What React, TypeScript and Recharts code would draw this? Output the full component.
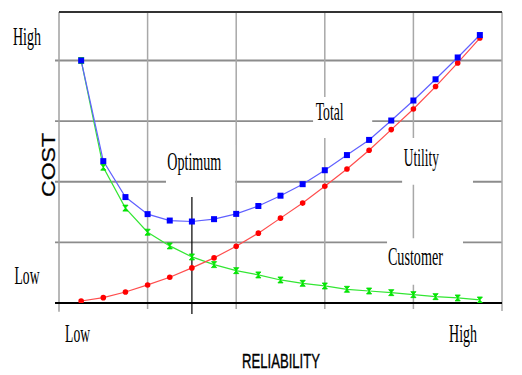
import { LineChart, Line, XAxis, YAxis, ReferenceLine, ReferenceArea, ReferenceDot } from 'recharts';

// reliability steps (x) and cost values (y)
const steps = [0, 1, 2, 3, 4, 5, 6, 7, 8, 9, 10, 11, 12, 13, 14, 15, 16, 17, 18];
const utilityCost = [0.33, 0.88, 1.82, 2.98, 4.25, 5.79, 7.44, 9.37, 11.52, 14.0, 16.48, 19.25, 22.1, 25.2, 28.6, 32.0, 35.7, 39.6, 43.7];
const customerCost = [40.0, 22.4, 15.65, 11.68, 9.42, 7.6, 6.33, 5.34, 4.63, 3.8, 3.25, 2.81, 2.26, 1.98, 1.71, 1.38, 1.05, 0.83, 0.5];
const totalCost = [40.0, 23.4, 17.47, 14.66, 13.6, 13.44, 13.83, 14.7, 16.0, 17.7, 19.6, 21.9, 24.4, 26.9, 30.1, 33.4, 36.9, 40.5, 44.2];

const xGrid = [3, 7, 11, 15];
const yGrid = [10, 20, 30, 40];
const optimumStep = 5;

// qualitative tick labels (no numbers on the axes)
const costTicks = [3.14, 42.5];
const costTickLabels = ['Low', 'High'];
const reliabilityTicks = [-0.16, 17.24];
const reliabilityTickLabels = ['Low', 'High'];

// series captions: white box (hides grid) and text anchor
const captions = [
    { text: 'Optimum', x: 5.11, y: 21.9, len: 54, box: [3.83, 6.95, 19.5, 26.1] },
    { text: 'Total', x: 11.22, y: 30.2, len: 28, box: [10.47, 13.14, 27.2, 34.0] },
    { text: 'Utility', x: 15.36, y: 22.6, len: 35, box: [14.49, 17.69, 19.5, 27.2] },
    { text: 'Customer', x: 15.09, y: 6.2, len: 55, box: [13.81, 17.24, 3.0, 10.7] },
];

const data = steps.map((s, i) => ({
    step: s,
    utility: utilityCost[i],
    customer: customerCost[i],
    total: totalCost[i],
}));

const SERIF = '"Liberation Serif", "DejaVu Serif", serif';
const SANS = '"Liberation Sans", Arial, sans-serif';

const SquareDot = (p: any) => (
    <rect x={p.cx - 3} y={p.cy - 3} width={6} height={6} fill="#0000ff" />
);
const RoundDot = (p: any) => <circle cx={p.cx} cy={p.cy} r={2.8} fill="#ff0000" />;
const HourglassDot = (p: any) => (
    <path
        d={`M${p.cx - 2.6},${p.cy - 3} L${p.cx + 2.6},${p.cy - 3} L${p.cx - 2.6},${p.cy + 3} L${p.cx + 2.6},${p.cy + 3} Z`}
        fill="#00ee00"
        stroke="#00dd00"
        strokeWidth={0.8}
    />
);

const serifText = (x: number, y: number, s: string, len: number) => (
    <text x={x} y={y} textAnchor="middle" fontFamily={SERIF} fontSize={26} fill="#000"
        textLength={len} lengthAdjust="spacingAndGlyphs">
        {s}
    </text>
);

export default function App() {
    return (
        <div style={{ position: 'absolute', left: 0, top: 0, width: 522, height: 375, background: '#fff' }}>
            <LineChart width={522} height={375} data={data} margin={{ top: 12, right: 20, left: 59, bottom: 72 }}>
                <XAxis dataKey="step" type="number" domain={[-1, 19]} allowDataOverflow hide />
                <YAxis type="number" domain={[0, 48]} allowDataOverflow hide />

                {/* grid */}
                {yGrid.map(v => (
                    <ReferenceLine key={'h' + v} segment={[{ x: -1.18, y: v }, { x: 19, y: v }]}
                        stroke="#8c8c8c" strokeWidth={1.8} ifOverflow="visible" zIndex={-50} />
                ))}
                {xGrid.map(v => (
                    <ReferenceLine key={'v' + v} segment={[{ x: v, y: -1 }, { x: v, y: 48 }]}
                        stroke="#a8a8a8" strokeWidth={1.5} ifOverflow="visible" zIndex={-50} />
                ))}
                <ReferenceLine segment={[{ x: -1, y: -1.45 }, { x: -1, y: 48 }]} stroke="#a0a0a0" strokeWidth={1.5} ifOverflow="visible" zIndex={-50} />
                <ReferenceLine segment={[{ x: 19, y: -1.3 }, { x: 19, y: 48 }]} stroke="#a8a8a8" strokeWidth={1.5} ifOverflow="visible" zIndex={-50} />
                <ReferenceLine segment={[{ x: -1, y: 48 }, { x: 19, y: 48 }]} stroke="#333" strokeWidth={2} ifOverflow="visible" zIndex={-50} />
                <ReferenceLine segment={[{ x: -1.18, y: 0 }, { x: 19, y: 0 }]} stroke="#000" strokeWidth={2} ifOverflow="visible" zIndex={-40} />

                {captions.map(c => (
                    <ReferenceArea key={'b' + c.text} x1={c.box[0]} x2={c.box[1]} y1={c.box[2]} y2={c.box[3]}
                        fill="#fff" fillOpacity={1} stroke="none" ifOverflow="visible" zIndex={-30} />
                ))}

                <ReferenceLine segment={[{ x: optimumStep, y: 17.5 }, { x: optimumStep, y: -1.8 }]}
                    stroke="#000" strokeWidth={1.2} ifOverflow="visible" zIndex={-20} />

                <Line dataKey="customer" stroke="#33e633" strokeWidth={1.2} dot={<HourglassDot />} isAnimationActive={false} />
                <Line dataKey="utility" stroke="#ff4d4d" strokeWidth={1.2} dot={<RoundDot />} isAnimationActive={false} />
                <Line dataKey="total" stroke="#6060ff" strokeWidth={1.2} dot={<SquareDot />} isAnimationActive={false} />

                {captions.map(c => (
                    <ReferenceDot key={'t' + c.text} x={c.x} y={c.y} r={0} ifOverflow="visible"
                        shape={(p: any) => serifText(p.cx, p.cy, c.text, c.len)} />
                ))}

                {/* axis tick labels */}
                {costTicks.map((v, i) => (
                    <ReferenceDot key={'yt' + i} x={-1} y={v} r={0} ifOverflow="visible"
                        shape={(p: any) => serifText(p.cx - 32, p.cy, costTickLabels[i], i === 1 ? 28 : 25)} />
                ))}
                {reliabilityTicks.map((v, i) => (
                    <ReferenceDot key={'xt' + i} x={v} y={0} r={0} ifOverflow="visible"
                        shape={(p: any) => serifText(p.cx, p.cy + 39, reliabilityTickLabels[i], i === 1 ? 28 : 25)} />
                ))}

                <text transform="translate(55,165) scale(0.8,1) rotate(-90)" textAnchor="middle"
                    fontFamily={SANS} fontSize={23} fill="#000" stroke="#000" strokeWidth={0.3}>
                    COST
                </text>
                <text x={281} y={368} textAnchor="middle" fontFamily={SANS} fontSize={21} fill="#000"
                    stroke="#000" strokeWidth={0.4} textLength={78} lengthAdjust="spacingAndGlyphs">
                    RELIABILITY
                </text>
            </LineChart>
        </div>
    );
}
